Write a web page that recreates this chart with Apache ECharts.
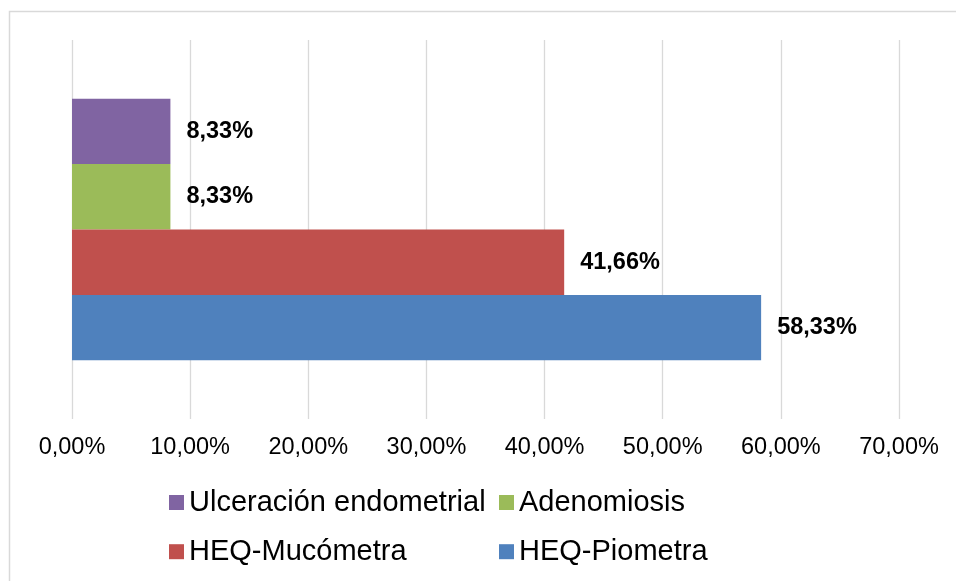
<!DOCTYPE html>
<html>
<head>
<meta charset="utf-8">
<script src="https://cdn.jsdelivr.net/npm/echarts@6/dist/echarts.min.js"></script>
<style>html,body{margin:0;padding:0;background:#fff}#c{width:956px;height:581px}</style>
</head>
<body>
<div id="c"></div>
<script>
// Data (series listed top bar first)
const categories = ['Diagnóstico'];
const seriesNames = ['Ulceración endometrial', 'Adenomiosis', 'HEQ-Mucómetra', 'HEQ-Piometra'];
const seriesValues = [8.33, 8.33, 41.66, 58.33];
const seriesColors = ['#8064A2', '#9BBB59', '#C0504D', '#4F81BD'];
const legendOrder = ['Ulceración endometrial', 'Adenomiosis', 'HEQ-Mucómetra', 'HEQ-Piometra'];
const xTicks = [0, 10, 20, 30, 40, 50, 60, 70];

const FONT = '"Liberation Sans", Arial, sans-serif';
const fmt = v => v.toFixed(2).replace('.', ',') + '%';

const chart = echarts.init(document.getElementById('c'), null, {renderer: 'canvas'});

const legendPos = [
  {left: 169, top: 487.5},
  {left: 499, top: 487.5},
  {left: 169, top: 536.7},
  {left: 499, top: 536.7}
];

const option = {
  backgroundColor: '#fff',
  animation: false,
  graphic: [{
    type: 'rect',
    shape: {x: 9.5, y: 11.5, width: 1000, height: 1000},
    style: {fill: 'none', stroke: '#d9d9d9', lineWidth: 1.5},
    silent: true
  }],
  grid: {left: 72, right: 57, top: 40, bottom: 162, containLabel: false},
  xAxis: {
    type: 'value',
    min: xTicks[0],
    max: xTicks[xTicks.length - 1],
    interval: 10,
    axisLine: {show: false},
    axisTick: {show: false},
    splitLine: {show: true, lineStyle: {color: '#d9d9d9', width: 1.3}},
    axisLabel: {
      formatter: v => fmt(v),
      fontFamily: FONT,
      fontSize: 23.5,
      color: '#000',
      margin: 17
    }
  },
  yAxis: {
    type: 'category',
    data: categories,
    axisLine: {show: false},
    axisTick: {show: false},
    axisLabel: {show: false}
  },
  legend: legendOrder.map((name, i) => ({
    data: [name],
    left: legendPos[i].left,
    top: legendPos[i].top,
    padding: 0,
    itemWidth: 15,
    itemHeight: 15,
    icon: 'rect',
    selectedMode: false,
    textStyle: {fontFamily: FONT, fontSize: 29, color: '#000', lineHeight: 30}
  })),
  series: seriesNames.map((name, i) => ({
    name: name,
    type: 'bar',
    data: [seriesValues[i]],
    barWidth: 65.4,
    barGap: '0%',
    itemStyle: {color: seriesColors[i]},
    label: {
      show: true,
      position: 'right',
      distance: 16,
      formatter: p => fmt(p.value),
      fontFamily: FONT,
      fontSize: 23.5,
      fontWeight: 'bold',
      color: '#000'
    }
  }))
};
chart.setOption(option);
</script>
</body>
</html>
